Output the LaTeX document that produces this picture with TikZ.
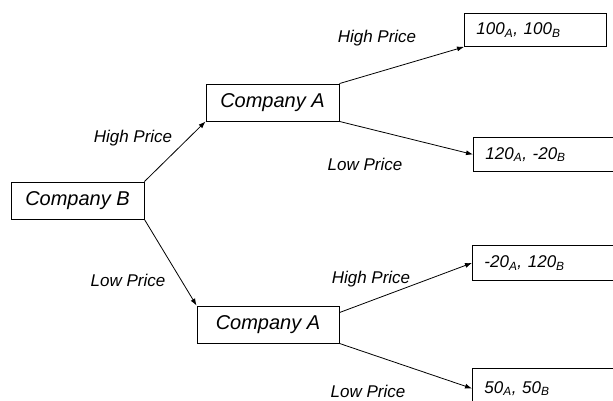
\documentclass[tikz,border=0pt]{standalone}
\usepackage{fontspec}
\setmainfont{Liberation Sans}
\usetikzlibrary{arrows.meta}
\begin{document}
\begin{tikzpicture}[x=1pt,y=-1pt,
  cbox/.style={draw, line width=0.9pt, rectangle, inner sep=0pt, minimum height=37pt,
    font=\fontsize{20}{24}\selectfont\itshape},
  pbox/.style={draw, line width=0.9pt, rectangle, anchor=north west, inner ysep=0pt,
    inner xsep=12pt, align=left, font=\fontsize{17}{20}\selectfont\itshape},
  lbl/.style={font=\fontsize{17}{20}\selectfont\itshape, inner sep=0pt},
  arr/.style={line width=0.8pt, -{Latex[length=7pt,width=5pt]}}]
\useasboundingbox (0,0) rectangle (613,400);
\clip (0,0) rectangle (613,400);
\node[cbox, minimum width=133pt] (B) at (77.5,200.5) {Company B};
\node[cbox, minimum width=133pt] (A1) at (272.5,102.5) {Company A};
\node[cbox, minimum width=142pt] (A2) at (268,324.5) {Company A};
\node[pbox, minimum height=33pt, text width=118pt] (P1) at (464,13) {100\textsubscript{A}, 100\textsubscript{B}};
\node[pbox, minimum height=34pt, text width=140pt] (P2) at (473,137) {120\textsubscript{A}, -20\textsubscript{B}};
\node[pbox, minimum height=35pt, text width=140pt] (P3) at (472,245) {-20\textsubscript{A}, 120\textsubscript{B}};
\node[pbox, minimum height=40pt, text width=140pt] (P4) at (472,368) {50\textsubscript{A}, 50\textsubscript{B}};
\draw[arr] (B.north east) -- (A1.south west);
\draw[arr] (B.south east) -- (A2.north west);
\draw[arr] (A1.north east) -- (P1.south west);
\draw[arr] (A1.south east) -- (P2.west);
\draw[arr] ([yshift=-7pt]A2.north east) -- (P3.west);
\draw[arr] (A2.south east) -- (P4.west);
\node[lbl] (l1) at (377,38) {High Price};
\node[lbl] (l2) at (365,164) {Low Price};
\node[lbl] (l3) at (133,138) {High Price};
\node[lbl] (l4) at (128,280) {Low Price};
\node[lbl] (l5) at (371,279) {High Price};
\node[lbl] (l6) at (368,391) {Low Price};
\end{tikzpicture}
\end{document}
